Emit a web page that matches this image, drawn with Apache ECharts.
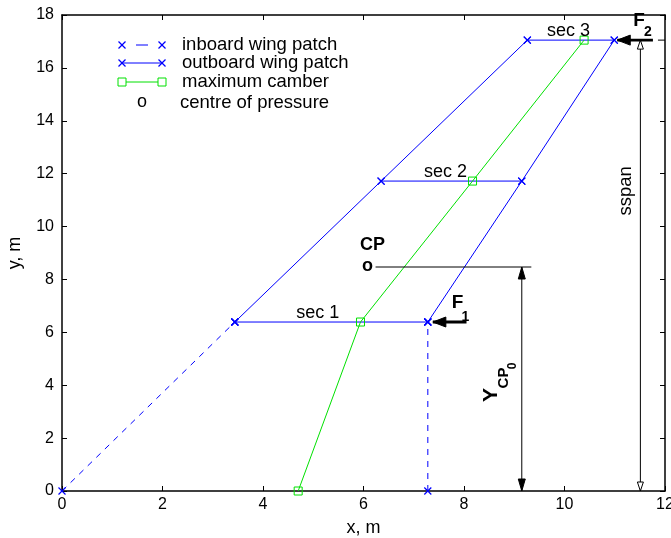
<!DOCTYPE html>
<html>
<head>
<meta charset="utf-8">
<script src="https://cdn.jsdelivr.net/npm/echarts@6/dist/echarts.min.js"></script>
<style>
html, body { margin: 0; padding: 0; background: #fff; }
#chart { width: 671px; height: 538px; }
</style>
</head>
<body>
<div id="chart"></div>
<script>
// Axis ranges and tick spacing (m)
const xRange = [0, 12];
const yRange = [0, 18];
const xStep = 2;
const yStep = 2;

// Wing planform geometry, [x, y] in metres
const inboardLeading = [[0, 0], [3.44, 6.39]];
const inboardTrailing = [[7.28, 0], [7.28, 6.39]];
const outboardLeading = [[3.44, 6.39], [6.35, 11.72], [9.26, 17.05]];
const outboardTrailing = [[7.28, 6.39], [9.15, 11.72], [10.99, 17.05]];
const section1 = [[3.44, 6.39], [7.28, 6.39]];
const section2 = [[6.35, 11.72], [9.15, 11.72]];
const section3 = [[9.26, 17.05], [10.99, 17.05]];
const maxCamber = [[4.70, 0], [5.94, 6.39], [8.17, 11.72], [10.39, 17.05]];
const centreOfPressure = [6.08, 8.47];

// Dimension / force lines: [x1, y1, x2, y2]
const cpLevelLine = [6.24, 8.47, 9.34, 8.47];
const ycpDimension = [9.15, 0, 9.15, 8.47];
const spanDimension = [11.51, 0, 11.51, 17.05];
const spanExtension = [11.86, 17.05, 12, 17.05];
const forceF1 = [8.05, 6.39, 7.38, 6.39];
const forceF2 = [11.76, 17.05, 11.05, 17.05];

// Section labels and their anchor points
const sectionNames = ['sec 1', 'sec 2', 'sec 3'];
const sectionLabelAt = [[5.09, 6.73], [7.63, 12.07], [10.08, 17.40]];

const legendNames = ['inboard wing patch', 'outboard wing patch', 'maximum camber', 'centre of pressure'];

const BLUE = '#0000ff';
const GREEN = '#00e000';
const FONT = 'Liberation Sans, Arial, sans-serif';
const CROSS = 'path://M0,0L10,10M10,0L0,10';

function planformLine(name, data, dashed) {
  return {
    type: 'line', name: name, data: data,
    symbol: CROSS, symbolSize: 7, showAllSymbol: true,
    lineStyle: { color: BLUE, width: 1, type: dashed ? [6, 6] : 'solid' },
    itemStyle: { color: BLUE, borderColor: BLUE, borderWidth: 1.2 },
    z: 3, silent: true
  };
}

// Arrow definitions: line + head style at start/end (0 none, 1 filled, 2 hollow)
const arrowDefs = [
  { seg: cpLevelLine, w: 1, start: 0, end: 0 },
  { seg: ycpDimension, w: 1, start: 1, end: 1, L: 12, H: 3.5 },
  { seg: spanDimension, w: 1, start: 2, end: 2, L: 9, H: 3 },
  { seg: spanExtension, w: 1, start: 0, end: 0 },
  { seg: forceF1, w: 2.8, start: 0, end: 1, L: 13, H: 5 },
  { seg: forceF2, w: 2.8, start: 0, end: 1, L: 13, H: 5 }
];

function head(tip, from, L, H, kind) {
  const dx = tip[0] - from[0], dy = tip[1] - from[1];
  const len = Math.hypot(dx, dy) || 1;
  const ux = dx / len, uy = dy / len;
  const bx = tip[0] - ux * L, by = tip[1] - uy * L;
  return {
    type: 'polygon',
    shape: { points: [[tip[0], tip[1]], [bx - uy * H, by + ux * H], [bx + uy * H, by - ux * H]] },
    style: { fill: kind === 1 ? '#000' : '#fff', stroke: '#000', lineWidth: 1 }
  };
}

function renderArrow(params, api) {
  const a = arrowDefs[params.dataIndex];
  const p1 = api.coord([a.seg[0], a.seg[1]]);
  const p2 = api.coord([a.seg[2], a.seg[3]]);
  const children = [{
    type: 'line',
    shape: { x1: p1[0], y1: p1[1], x2: p2[0], y2: p2[1] },
    style: { stroke: '#000', lineWidth: a.w }
  }];
  if (a.start) children.push(head(p1, p2, a.L, a.H, a.start));
  if (a.end) children.push(head(p2, p1, a.L, a.H, a.end));
  return { type: 'group', children: children };
}

function txt(x, y, text, size, bold, extra) {
  return Object.assign({
    type: 'text', x: x, y: y,
    style: { text: text, fill: '#000', font: (bold ? 'bold ' : '') + size + 'px ' + FONT, align: 'center', verticalAlign: 'middle' }
  }, extra || {});
}

// Text annotations anchored in data coordinates
function renderNotes(params, api) {
  const children = [];
  sectionNames.forEach(function (n, i) {
    const p = api.coord(sectionLabelAt[i]);
    children.push(txt(p[0], p[1], n, 18, false));
  });
  const cp = api.coord(centreOfPressure);
  children.push(txt(cp[0], cp[1] - 1, 'o', 18, true));
  children.push(txt(cp[0] + 5, cp[1] - 22, 'CP', 18, true));
  const f1 = api.coord([forceF1[0], forceF1[1]]);
  children.push(txt(f1[0] - 9, f1[1] - 19, 'F', 19, true));
  children.push(txt(f1[0] - 1, f1[1] - 5, '1', 14, true));
  const f2 = api.coord([forceF2[0], forceF2[1]]);
  children.push(txt(f2[0] - 14, f2[1] - 19, 'F', 19, true));
  children.push(txt(f2[0] - 5, f2[1] - 8, '2', 14, true));
  // rotated dimension labels
  const yc = api.coord([ycpDimension[0], ycpDimension[3] / 2]);
  const rot = Math.PI / 2;
  children.push(txt(yc[0] - 31, yc[1] + 16, 'Y', 21, true, { rotation: rot }));
  children.push(txt(yc[0] - 18, yc[1] - 1, 'CP', 15, true, { rotation: rot }));
  children.push(txt(yc[0] - 9, yc[1] - 13, '0', 12, true, { rotation: rot }));
  const sp = api.coord([spanDimension[0], spanDimension[3] / 2 + 2.6]);
  children.push(txt(sp[0] - 14, sp[1] - 6, 'sspan', 18.5, false, { rotation: rot }));
  return { type: 'group', children: children };
}

// Legend drawn as plain graphics (line samples with end markers)
function legendGraphics() {
  const c = [];
  const rows = [0, 18, 37, 58];
  const seg = function (x1, y1, x2, y2, color, extra) {
    return { type: 'line', shape: { x1: x1, y1: y1, x2: x2, y2: y2 }, style: Object.assign({ stroke: color, lineWidth: 1.2 }, extra || {}) };
  };
  const cross = function (x, y) {
    c.push(seg(x - 3.5, y - 3.5, x + 3.5, y + 3.5, BLUE));
    c.push(seg(x + 3.5, y - 3.5, x - 3.5, y + 3.5, BLUE));
  };
  c.push(seg(14, rows[0], 26, rows[0], BLUE, { lineWidth: 1 }));
  cross(0, rows[0]); cross(40, rows[0]);
  c.push(seg(0, rows[1], 40, rows[1], BLUE, { lineWidth: 1 }));
  cross(0, rows[1]); cross(40, rows[1]);
  c.push(seg(0, rows[2], 40, rows[2], GREEN, { lineWidth: 1 }));
  c.push({ type: 'rect', shape: { x: -4, y: rows[2] - 4, width: 8, height: 8 }, style: { stroke: GREEN, fill: '#fff', lineWidth: 1 } });
  c.push({ type: 'rect', shape: { x: 36, y: rows[2] - 4, width: 8, height: 8 }, style: { stroke: GREEN, fill: '#fff', lineWidth: 1 } });
  c.push({ type: 'text', x: 20, y: rows[3] - 1, style: { text: 'o', font: '18px ' + FONT, fill: '#000', align: 'center', verticalAlign: 'middle' } });
  legendNames.forEach(function (n, i) {
    c.push({ type: 'text', x: i === 3 ? 58 : 60, y: rows[i], style: { text: n, font: '18.5px ' + FONT, fill: '#000', align: 'left', verticalAlign: 'middle' } });
  });
  return c;
}

const chart = echarts.init(document.getElementById('chart'), null, { renderer: 'canvas' });

const axisCommon = {
  type: 'value',
  axisLine: { show: true, onZero: false, lineStyle: { color: '#000', width: 1.5 } },
  axisTick: { show: true, inside: true, length: 5, lineStyle: { color: '#000', width: 1 } },
  splitLine: { show: false }
};

chart.setOption({
  animation: false,
  backgroundColor: '#fff',
  grid: { left: 62, right: 6, top: 15, bottom: 47, outerBoundsMode: 'none', containLabel: false },
  xAxis: [
    Object.assign({}, axisCommon, {
      min: xRange[0], max: xRange[1], interval: xStep, position: 'bottom',
      name: 'x, m', nameLocation: 'middle', nameGap: 28,
      nameTextStyle: { fontFamily: FONT, fontSize: 18, color: '#000' },
      axisLabel: { fontFamily: FONT, fontSize: 16, color: '#000', margin: 6 }
    }),
    Object.assign({}, axisCommon, {
      min: xRange[0], max: xRange[1], interval: xStep, position: 'top',
      axisLabel: { show: false }
    })
  ],
  yAxis: [
    Object.assign({}, axisCommon, {
      min: yRange[0], max: yRange[1], interval: yStep, position: 'left',
      name: 'y, m', nameLocation: 'middle', nameGap: 38, nameRotate: 90,
      nameTextStyle: { fontFamily: FONT, fontSize: 18, color: '#000' },
      axisLabel: { fontFamily: FONT, fontSize: 16, color: '#000', margin: 8 }
    }),
    Object.assign({}, axisCommon, {
      min: yRange[0], max: yRange[1], interval: yStep, position: 'right',
      axisLabel: { show: false }
    })
  ],
  series: [
    planformLine(legendNames[0], inboardLeading, true),
    planformLine(legendNames[0], inboardTrailing, true),
    planformLine(legendNames[1], outboardLeading, false),
    planformLine(legendNames[1], outboardTrailing, false),
    planformLine(legendNames[1], section1, false),
    planformLine(legendNames[1], section2, false),
    planformLine(legendNames[1], section3, false),
    {
      type: 'line', name: legendNames[2], data: maxCamber,
      symbol: 'rect', symbolSize: 8, showAllSymbol: true,
      lineStyle: { color: GREEN, width: 1 },
      itemStyle: { color: 'rgba(255,255,255,0)', borderColor: GREEN, borderWidth: 1 },
      z: 4, silent: true
    },
    {
      type: 'custom', name: 'arrows', renderItem: renderArrow,
      data: arrowDefs.map(function (a) { return a.seg; }),
      encode: { x: [0, 2], y: [1, 3] }, clip: false, z: 5, silent: true
    },
    {
      type: 'custom', name: legendNames[3], renderItem: renderNotes,
      data: [centreOfPressure], encode: { x: 0, y: 1 }, clip: false, z: 6, silent: true
    }
  ],
  graphic: [{
    type: 'group', x: 122, y: 45, silent: true,
    children: legendGraphics()
  }]
});
</script>
</body>
</html>
